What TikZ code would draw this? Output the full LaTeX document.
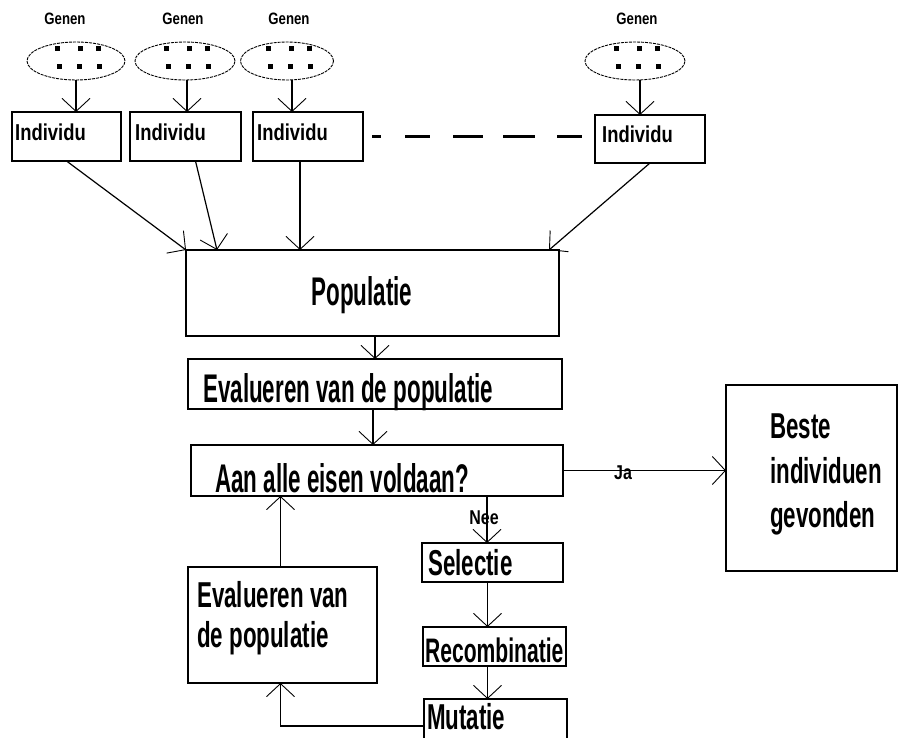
\documentclass[tikz,border=0pt]{standalone}
\usepackage{fontspec}
\usetikzlibrary{arrows.meta,shapes.geometric}
% narrow display faces for the flow chart
\newfontfamily\diafont[FakeStretch=0.62]{Liberation Sans}
\newfontfamily\tallfont[FakeStretch=0.56]{Liberation Sans}
\newfontfamily\smallfont[FakeStretch=0.8]{Liberation Sans}

\begin{document}
\begin{tikzpicture}[x=1pt,y=-1pt,
  box/.style={draw, line width=1.5pt, inner sep=0pt, outer sep=0pt},
  genes/.style={draw, ellipse, line width=0.9pt, dash pattern=on 3pt off 1pt, inner sep=0pt, outer sep=0pt},
  arr/.style={line width=1.2pt, -{Straight Barb[length=13pt,width=28pt,line width=0.9pt]}},
  big/.style={font=\diafont\bfseries\fontsize{36}{40}\selectfont, inner sep=0pt, anchor=base west},
  tall/.style={font=\tallfont\bfseries\fontsize{40}{44}\selectfont, inner sep=0pt, anchor=base west},
  ind/.style={font=\smallfont\bfseries\fontsize{23}{26}\selectfont, inner sep=0pt, anchor=base west},
  tag/.style={font=\smallfont\bfseries\fontsize{20}{23}\selectfont, inner sep=0pt},
  genlbl/.style={font=\smallfont\bfseries\fontsize{16.5}{18}\selectfont, inner sep=0pt, anchor=base},
  dashline/.style={line width=3pt, dash pattern=on 9pt off 24pt on 25pt off 23pt on 30pt off 20pt on 32pt off 22pt on 25pt off 200pt}
]
\path[use as bounding box] (0,0) rectangle (903,738);
\fill[white] (0,0) rectangle (903,738);
\clip (0,0) rectangle (903,738);

% gene pools
\node[genes, minimum width=98pt,  minimum height=38pt] (e1) at (76,61) {};
\node[genes, minimum width=100pt, minimum height=38pt] (e2) at (185,61) {};
\node[genes, minimum width=93pt,  minimum height=38pt] (e3) at (287,61) {};
\node[genes, minimum width=100pt, minimum height=38pt] (e4) at (635,61) {};
\foreach \cx in {76,185,287,635}{
  \foreach \dx/\dy in {-19/49, 4/49, 22/49, -17/67, 3/67, 23/67}
    \fill (\cx+\dx-2.5, \dy-2.5) rectangle ++(5,5);
}
\node[genlbl] (g1) at (65,25)  {Genen};
\node[genlbl] (g2) at (183,25) {Genen};
\node[genlbl] (g3) at (289,25) {Genen};
\node[genlbl] (g4) at (637,25) {Genen};

% individuals
\node[box, minimum width=109pt, minimum height=49pt] (i1) at (66.5,136.5) {};
\node[box, minimum width=111pt, minimum height=49pt] (i2) at (185.5,136.5) {};
\node[box, minimum width=110pt, minimum height=49pt] (i3) at (308,136.5) {};
\node[box, minimum width=110pt, minimum height=48pt] (i4) at (650,139) {};
\node[ind] (ti1) at (15,141)  {Individu};
\node[ind] (ti2) at (135,141) {Individu};
\node[ind] (ti3) at (257,141) {Individu};
\node[ind] (ti4) at (602,143) {Individu};

% main flow boxes
\node[box, minimum width=373pt, minimum height=86pt]  (pop)  at (372.5,293) {};
\node[box, minimum width=374pt, minimum height=50pt]  (ev)   at (375,384) {};
\node[box, minimum width=372pt, minimum height=51pt]  (aan)  at (377,470.5) {};
\node[box, minimum width=171pt, minimum height=186pt] (best) at (811.5,478) {};
\node[box, minimum width=141pt, minimum height=39pt]  (sel)  at (492.5,562.5) {};
\node[box, minimum width=143pt, minimum height=39pt]  (rec)  at (494.5,646.5) {};
\node[box, minimum width=143pt, minimum height=54pt]  (mut)  at (495.5,726) {};
\node[box, minimum width=189pt, minimum height=116pt] (ev2)  at (282.5,625) {};

\node[tall, anchor=base] (tpop) at (362,306) {Populatie};
\node[tall] (tev)   at (203,402) {Evalueren van de populatie};
\node[tall] (taan)  at (215,492) {Aan alle eisen voldaan?};
\node[big] (tb1)   at (770,438) {Beste};
\node[big] (tb2)   at (770,483) {individuen};
\node[big] (tb3)   at (770,527) {gevonden};
\node[big] (tsel)  at (428,575) {Selectie};
\node[big, font=\diafont\bfseries\fontsize{34}{38}\selectfont] (trec) at (425,662) {Recombinatie};
\node[big] (tmut)  at (427,729) {Mutatie};
\node[big] (tev2a) at (197,607) {Evalueren van};
\node[big] (tev2b) at (197,647) {de populatie};

% genes into individuals
\draw[arr] (e1.south) -- (e1.south |- i1.north);
\draw[arr] ([xshift=2pt]e2.south) -- ([xshift=2pt]e2.south |- i2.north);
\draw[arr] ([xshift=5pt]e3.south) -- ([xshift=5pt]e3.south |- i3.north);
\draw[arr] ([xshift=5pt]e4.south) -- ([xshift=5pt]e4.south |- i4.north);

% individuals into the population
\draw[arr] (i1.south) -- (pop.north west);
\draw[arr] ([xshift=10pt]i2.south) -- ([xshift=31pt]pop.north west);
\draw[arr] ([xshift=-8pt]i3.south) -- ([xshift=-8pt]i3.south |- pop.north);
\draw[arr] (i4.south) -- ([xshift=-10pt]pop.north east);
\draw[dashline] ([xshift=9pt]i3.east) -- ([xshift=-13pt]i3.east -| i4.west);

% evaluation loop
\draw[arr] (ev.north |- pop.south) -- (ev.north);
\draw[arr] ([xshift=-2pt]ev.south) -- ([xshift=-2pt]ev.south |- aan.north);
\draw[arr] (aan.east) -- (aan.east -| best.west);
\node[tag] (ja) at (623,473) {Ja};
\draw[arr] ([xshift=110pt]aan.south) -- ([xshift=110pt]aan.south |- sel.north);
\node[tag] (nee) at (484,518) {Nee};
\draw[arr] ([xshift=-5pt]sel.south) -- ([xshift=-5pt]sel.south |- rec.north);
\draw[arr] ([xshift=-7pt]rec.south) -- ([xshift=-7pt]rec.south |- mut.north);
\draw[arr] (mut.west) -| ([xshift=-2pt]ev2.south);
\draw[arr] ([xshift=-2pt]ev2.north) -- ([xshift=-2pt]ev2.north |- aan.south);
\end{tikzpicture}
\end{document}
